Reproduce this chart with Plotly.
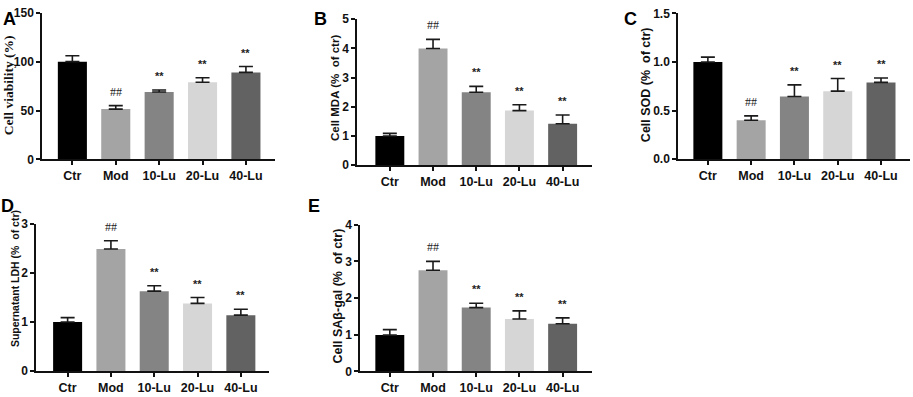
import plotly.graph_objects as go

# ---------------- data ----------------
categories = ["Ctr", "Mod", "10-Lu", "20-Lu", "40-Lu"]
sig_labels = ["", "##", "**", "**", "**"]

viability = [100, 51.5, 69, 79, 89]
viability_err = [6, 3.5, 2, 4.5, 6]

mda = [1.0, 4.0, 2.5, 1.87, 1.42]
mda_err = [0.09, 0.31, 0.2, 0.2, 0.3]

sod = [1.0, 0.4, 0.645, 0.7, 0.79]
sod_err = [0.05, 0.045, 0.12, 0.13, 0.045]

ldh = [1.0, 2.49, 1.63, 1.38, 1.14]
ldh_err = [0.09, 0.17, 0.11, 0.12, 0.12]

sagal = [0.99, 2.76, 1.74, 1.43, 1.3]
sagal_err = [0.15, 0.24, 0.12, 0.22, 0.16]

bar_colors = ["#000000", "#a4a4a4", "#848484", "#d6d6d6", "#626262"]

W, H = 913, 397
SANS = "Liberation Sans, Arial, sans-serif"
SERIF = "Liberation Serif, Times New Roman, serif"

# panel layout (pixel coords): x0, x1 (axis line extent), ytop, ybottom
panels = [
    dict(label="A", vals=viability, errs=viability_err, title="Cell viability (%)",
         tfont=SERIF, tsize=13.5, box=(42, 275, 6, 158), yr=[0, 150], dtick=50, fmt="",
         xr=[-0.70, 4.67], lab=(9, 12), tpos=(8, 81)),
    dict(label="B", vals=mda, errs=mda_err, title="Cell MDA (%  of ctr)",
         tfont=SANS, tsize=11.5, box=(357, 592, 12.7, 164), yr=[0, 5], dtick=1, fmt="",
         xr=[-0.76, 4.68], lab=(320, 12), tpos=(335, 84)),
    dict(label="C", vals=sod, errs=sod_err, title="Cell SOD (%  of ctr)",
         tfont=SANS, tsize=12.5, box=(678, 910, 6.7, 157.7), yr=[0, 1.5], dtick=0.5, fmt=".1f",
         xr=[-0.69, 4.67], lab=(630, 12), tpos=(646, 81)),
    dict(label="D", vals=ldh, errs=ldh_err, title="Supernatant LDH (%  of ctr)",
         tfont=SANS, tsize=10.5, box=(36, 269, 225, 377.3), yr=[0, 3], dtick=1, fmt="",
         xr=[-0.73, 4.65], lab=(7, 206), tpos=(15, 282)),
    dict(label="E", vals=sagal, errs=sagal_err, title="Cell SAβ-gal (%  of ctr)",
         tfont=SANS, tsize=12.5, box=(360, 592, 225.7, 377.7), yr=[0, 4], dtick=1, fmt="",
         xr=[-0.69, 4.68], lab=(314, 206), tpos=(338, 300)),
]

fig = go.Figure()
annotations = []
layout = {}

for i, p in enumerate(panels):
    n = i + 1
    xa = "x" if n == 1 else f"x{n}"
    ya = "y" if n == 1 else f"y{n}"
    x0, x1, yt, yb = p["box"]
    fig.add_trace(go.Bar(
        x=categories, y=p["vals"], xaxis=xa, yaxis=ya,
        marker=dict(color=bar_colors, line=dict(width=0)),
        width=0.67, showlegend=False,
        error_y=dict(type="data", array=p["errs"], arrayminus=[0] * len(p["errs"]),
                     symmetric=False, color="#1a1a1a", thickness=1.6, width=7),
    ))
    xkey = "xaxis" if n == 1 else f"xaxis{n}"
    ykey = "yaxis" if n == 1 else f"yaxis{n}"
    layout[xkey] = dict(
        domain=[x0 / W, x1 / W], anchor=ya, type="category", range=p["xr"],
        showline=True, linecolor="#111", linewidth=1.5, ticks="outside", ticklen=4,
        tickwidth=1.5, tickcolor="#111", showgrid=False, zeroline=False,
        tickfont=dict(family=SANS, size=12.5, color="#111", weight="bold"),
    )
    layout[ykey] = dict(
        domain=[1 - yb / H, 1 - yt / H], anchor=xa, range=p["yr"], dtick=p["dtick"],
        tick0=0, tickformat=p["fmt"],
        showline=True, linecolor="#111", linewidth=1.5, ticks="outside", ticklen=4,
        tickwidth=1.5, tickcolor="#111", showgrid=False, zeroline=False,
        tickfont=dict(family=SANS, size=12, color="#111", weight="bold"),
    )
    # significance marks
    for c, v, e, s in zip(categories, p["vals"], p["errs"], sig_labels):
        if not s:
            continue
        annotations.append(dict(
            x=c, y=v + e, xref=xa, yref=ya, text=s, showarrow=False,
            yanchor="bottom", yshift=5 if s == "##" else 6,
            font=dict(family=SERIF if (s == "##") else SANS, size=12 if s == "##" else 11,
                      color="#222", weight="normal" if s == "##" else "bold"),
        ))
    # panel label
    annotations.append(dict(
        x=p["lab"][0] / W, y=1 - p["lab"][1] / H, xref="paper", yref="paper",
        text=p["label"], showarrow=False, xanchor="center", yanchor="middle",
        font=dict(family=SANS, size=18, color="#000", weight="bold"),
    ))
    # y axis title
    annotations.append(dict(
        x=p["tpos"][0] / W, y=1 - p["tpos"][1] / H, xref="paper", yref="paper",
        text=p["title"], showarrow=False, textangle=-90, xanchor="center", yanchor="middle",
        font=dict(family=p["tfont"], size=p["tsize"], color="#111", weight="bold"),
    ))

fig.update_layout(
    width=W, height=H, margin=dict(l=0, r=0, t=0, b=0),
    paper_bgcolor="white", plot_bgcolor="white",
    annotations=annotations, bargap=0.33, **layout,
)

fig.write_html("out.html", config={"displayModeBar": False},
               post_script="document.body.style.margin='0px';")
